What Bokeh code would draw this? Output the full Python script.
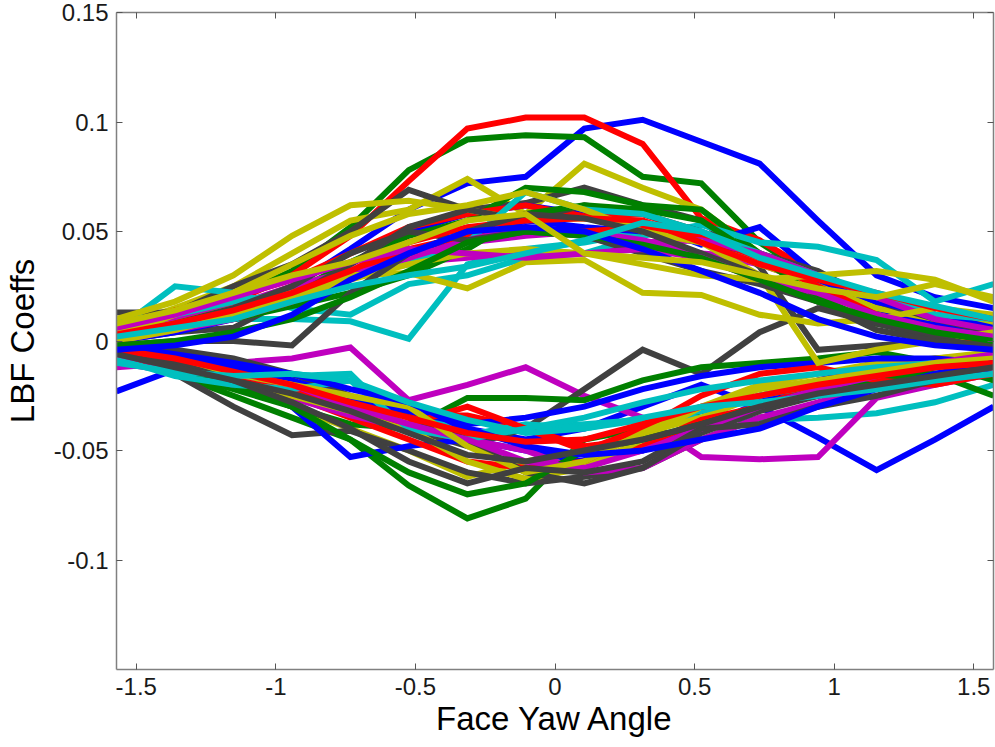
from bokeh.plotting import figure
from bokeh.models import Range1d, FixedTicker, CustomJSTickFormatter, LinearAxis
from bokeh.embed import file_html
from bokeh.resources import INLINE

# yaw angles (radians) at which the coefficients were sampled
yaw = [-1.571, -1.361, -1.152, -0.942, -0.733, -0.524, -0.314, -0.105,
       0.105, 0.314, 0.524, 0.733, 0.942, 1.152, 1.361, 1.571]

x_ticks = [-1.5, -1.0, -0.5, 0.0, 0.5, 1.0, 1.5]
y_ticks = [-0.1, -0.05, 0.0, 0.05, 0.1, 0.15]

BLUE, GREEN, RED, CYAN, MAGENTA, YELLOW, GREY = (
    "#0000ff", "#008000", "#ff0000", "#00bfbf", "#bf00bf", "#bfbf00", "#404040")

# positive-lobe coefficients
c01 = [0.000, 0.005, 0.012, 0.025, 0.042, 0.060, 0.072, 0.075, 0.097, 0.101, 0.091, 0.081, 0.055, 0.030, 0.020, 0.015]
c02 = [0.004, 0.010, 0.020, 0.032, 0.052, 0.078, 0.092, 0.094, 0.093, 0.075, 0.072, 0.045, 0.028, 0.015, 0.006, 0.002]
c03 = [0.008, 0.012, 0.018, 0.030, 0.048, 0.073, 0.097, 0.102, 0.102, 0.090, 0.056, 0.046, 0.030, 0.018, 0.008, 0.002]
c04 = [0.005, 0.012, 0.010, 0.010, 0.009, 0.001, 0.035, 0.042, 0.045, 0.050, 0.045, 0.036, 0.028, 0.020, 0.012, 0.008]
c05 = [0.002, 0.008, 0.015, 0.022, 0.030, 0.036, 0.038, 0.041, 0.040, 0.043, 0.040, 0.035, 0.026, 0.018, 0.010, 0.004]
c06 = [0.006, 0.015, 0.025, 0.040, 0.055, 0.060, 0.074, 0.058, 0.081, 0.070, 0.060, 0.040, 0.022, 0.012, 0.006, 0.003]
c07 = [0.013, 0.013, 0.025, 0.035, 0.050, 0.069, 0.060, 0.063, 0.070, 0.062, 0.055, 0.034, -0.004, -0.002, 0.000, 0.002]
c08 = [0.002, 0.006, 0.012, 0.020, 0.035, 0.050, 0.058, 0.062, 0.058, 0.054, 0.044, 0.052, 0.030, 0.015, 0.008, 0.005]
c09 = [0.000, 0.005, 0.012, 0.022, 0.036, 0.048, 0.055, 0.070, 0.068, 0.062, 0.060, 0.040, 0.025, 0.010, 0.004, 0.000]
c10 = [0.005, 0.014, 0.020, 0.028, 0.040, 0.052, 0.058, 0.062, 0.057, 0.058, 0.048, 0.040, 0.030, 0.020, 0.012, 0.005]
c11 = [0.005, 0.025, 0.022, 0.015, 0.012, 0.026, 0.030, 0.038, 0.040, 0.048, 0.053, 0.045, 0.043, 0.037, 0.018, 0.026]
c12 = [0.005, 0.010, 0.016, 0.025, 0.032, 0.040, 0.045, 0.048, 0.050, 0.046, 0.040, 0.038, 0.030, 0.020, 0.012, 0.008]
c13 = [0.010, 0.018, 0.030, 0.048, 0.062, 0.064, 0.060, 0.055, 0.056, 0.052, 0.045, 0.035, 0.026, 0.015, 0.010, 0.008]
c14 = [0.000, 0.004, 0.006, 0.020, 0.035, 0.052, 0.060, 0.055, 0.062, 0.058, 0.050, 0.040, 0.032, 0.018, 0.010, 0.004]
c15 = [0.000, 0.004, 0.010, 0.018, 0.030, 0.040, 0.045, 0.055, 0.052, 0.050, 0.045, 0.040, 0.028, 0.018, 0.012, 0.006]
c16 = [0.002, 0.006, 0.010, 0.016, 0.022, 0.030, 0.042, 0.058, 0.062, 0.060, 0.055, 0.038, 0.020, 0.008, 0.002, -0.002]
c17 = [0.000, 0.006, 0.010, 0.018, 0.030, 0.042, 0.048, 0.050, 0.050, 0.052, 0.048, 0.038, 0.025, 0.012, 0.004, -0.002]
c18 = [0.008, 0.012, 0.018, 0.022, 0.030, 0.035, 0.045, 0.068, 0.060, 0.058, 0.050, 0.040, 0.030, 0.020, 0.012, 0.010]
c19 = [0.000, 0.005, 0.010, 0.020, 0.030, 0.038, 0.046, 0.052, 0.048, 0.045, 0.046, 0.040, 0.030, 0.020, 0.010, 0.005]
c20 = [0.004, 0.008, 0.015, 0.022, 0.030, 0.031, 0.024, 0.036, 0.037, 0.022, 0.021, 0.012, 0.008, 0.010, 0.015, 0.012]
c21 = [0.002, 0.012, 0.022, 0.035, 0.048, 0.058, 0.062, 0.068, 0.060, 0.050, 0.045, 0.030, -0.010, -0.004, 0.000, 0.004]
c22 = [0.002, 0.008, 0.015, 0.025, 0.040, 0.050, 0.046, 0.050, 0.048, 0.040, 0.032, 0.026, 0.018, 0.008, 0.002, -0.004]
c23 = [0.000, 0.005, 0.012, 0.020, 0.028, 0.035, 0.040, 0.042, 0.040, 0.035, 0.030, 0.028, 0.030, 0.032, 0.028, 0.018]
c24 = [0.003, 0.008, 0.014, 0.022, 0.032, 0.045, 0.052, 0.055, 0.056, 0.055, 0.045, 0.035, 0.028, 0.022, 0.015, 0.010]
c25 = [-0.002, 0.000, 0.000, -0.002, 0.022, 0.040, 0.050, 0.058, 0.056, 0.050, 0.040, 0.030, 0.018, 0.005, 0.000, -0.002]
c26 = [0.006, 0.012, 0.020, 0.028, 0.036, 0.042, 0.040, 0.038, 0.040, 0.042, 0.038, 0.028, 0.022, 0.012, 0.006, 0.002]
c27 = [-0.002, 0.000, 0.004, 0.010, 0.020, 0.032, 0.045, 0.050, 0.048, 0.044, 0.038, 0.028, 0.018, 0.010, 0.004, 0.000]
c28 = [-0.004, -0.002, 0.002, 0.012, 0.028, 0.040, 0.050, 0.052, 0.050, 0.042, 0.032, 0.022, 0.010, 0.002, -0.002, -0.004]
c29 = [0.002, 0.006, 0.010, 0.018, 0.025, 0.030, 0.034, 0.040, 0.046, 0.054, 0.050, 0.038, 0.030, 0.022, 0.016, 0.010]
c30 = [0.008, 0.014, 0.022, 0.030, 0.036, 0.045, 0.055, 0.058, 0.040, 0.038, 0.036, 0.030, 0.024, 0.020, 0.026, 0.020]

# negative-lobe coefficients
d01 = [-0.004, -0.008, -0.015, -0.022, -0.030, -0.032, -0.040, -0.045, -0.040, -0.030, -0.020, -0.030, -0.044, -0.059, -0.045, -0.030]
d02 = [-0.005, -0.015, -0.025, -0.035, -0.045, -0.066, -0.081, -0.072, -0.045, -0.040, -0.032, -0.025, -0.020, -0.015, -0.010, -0.006]
d03 = [-0.003, -0.008, -0.015, -0.022, -0.030, -0.034, -0.034, -0.040, -0.048, -0.045, -0.040, -0.030, -0.025, -0.018, -0.012, -0.008]
d04 = [-0.002, -0.010, -0.012, -0.015, -0.018, -0.030, -0.044, -0.040, -0.038, -0.036, -0.035, -0.036, -0.035, -0.033, -0.028, -0.020]
d05 = [-0.012, -0.010, -0.010, -0.008, -0.003, -0.027, -0.020, -0.012, -0.025, -0.035, -0.053, -0.054, -0.053, -0.026, -0.020, -0.015]
d06 = [-0.006, -0.012, -0.020, -0.030, -0.040, -0.050, -0.062, -0.055, -0.050, -0.042, -0.035, -0.025, -0.018, -0.012, -0.008, -0.005]
d07 = [-0.002, -0.005, -0.010, -0.020, -0.030, -0.040, -0.048, -0.040, -0.022, -0.004, -0.015, 0.004, 0.015, 0.008, 0.002, -0.002]
d08 = [-0.005, -0.015, -0.030, -0.043, -0.041, -0.050, -0.060, -0.065, -0.062, -0.058, -0.045, -0.035, -0.030, -0.020, -0.015, -0.010]
d09 = [-0.023, -0.013, -0.015, -0.030, -0.053, -0.048, -0.045, -0.050, -0.055, -0.050, -0.040, -0.028, -0.018, -0.012, -0.010, -0.015]
d10 = [-0.008, -0.015, -0.022, -0.030, -0.038, -0.040, -0.026, -0.026, -0.027, -0.018, -0.012, -0.010, -0.008, -0.005, -0.010, -0.018]
d11 = [-0.008, -0.012, -0.018, -0.025, -0.035, -0.045, -0.055, -0.058, -0.055, -0.048, -0.036, -0.030, -0.020, -0.015, -0.010, -0.006]
d12 = [-0.004, -0.008, -0.012, -0.016, -0.015, -0.041, -0.043, -0.038, -0.040, -0.036, -0.032, -0.025, -0.020, -0.018, -0.015, -0.012]
d13 = [-0.010, -0.014, -0.020, -0.026, -0.034, -0.040, -0.045, -0.050, -0.060, -0.058, -0.045, -0.035, -0.028, -0.020, -0.015, -0.012]
d14 = [-0.004, -0.010, -0.018, -0.025, -0.032, -0.040, -0.055, -0.063, -0.058, -0.045, -0.030, -0.020, -0.015, -0.010, -0.008, -0.006]
d15 = [-0.001, -0.004, -0.008, -0.015, -0.025, -0.035, -0.045, -0.060, -0.065, -0.058, -0.042, -0.032, -0.025, -0.018, -0.012, -0.008]
d16 = [-0.003, -0.007, -0.012, -0.018, -0.026, -0.032, -0.038, -0.035, -0.030, -0.022, -0.016, -0.012, -0.010, -0.008, -0.008, -0.010]
d17 = [-0.004, -0.012, -0.020, -0.030, -0.045, -0.060, -0.070, -0.065, -0.050, -0.045, -0.038, -0.030, -0.022, -0.018, -0.015, -0.025]
d18 = [-0.006, -0.010, -0.016, -0.022, -0.030, -0.038, -0.030, -0.040, -0.050, -0.040, -0.025, -0.015, -0.012, -0.018, -0.020, -0.015]
d19 = [-0.008, -0.016, -0.020, -0.022, -0.018, -0.040, -0.045, -0.040, -0.035, -0.028, -0.022, -0.018, -0.015, -0.012, -0.010, -0.008]
d20 = [-0.006, -0.012, -0.015, -0.020, -0.030, -0.038, -0.045, -0.055, -0.058, -0.050, -0.040, -0.030, -0.022, -0.016, -0.010, -0.006]
d21 = [-0.002, -0.008, -0.015, -0.020, -0.025, -0.030, -0.048, -0.060, -0.055, -0.042, -0.030, -0.022, -0.018, -0.014, -0.010, -0.008]
d22 = [-0.003, -0.010, -0.018, -0.028, -0.040, -0.055, -0.065, -0.058, -0.060, -0.055, -0.040, -0.038, -0.030, -0.025, -0.018, -0.010]
d23 = [-0.002, -0.006, -0.010, -0.015, -0.022, -0.028, -0.040, -0.048, -0.052, -0.050, -0.045, -0.040, -0.030, -0.022, -0.015, -0.010]
d24 = [-0.004, -0.008, -0.014, -0.020, -0.028, -0.035, -0.042, -0.046, -0.045, -0.038, -0.030, -0.025, -0.020, -0.016, -0.012, -0.010]
d25 = [-0.010, -0.014, -0.016, -0.015, -0.018, -0.028, -0.036, -0.042, -0.040, -0.035, -0.030, -0.028, -0.025, -0.022, -0.018, -0.015]
d26 = [-0.006, -0.012, -0.018, -0.024, -0.032, -0.042, -0.052, -0.055, -0.050, -0.045, -0.038, -0.030, -0.024, -0.020, -0.016, -0.012]

curves = [
    (d01, BLUE), (d02, GREEN), (d03, RED), (d04, CYAN), (d05, MAGENTA), (d06, YELLOW), (d07, GREY),
    (c01, BLUE), (c02, GREEN), (c03, RED), (c04, CYAN), (c05, MAGENTA), (c06, YELLOW), (c07, GREY),
    (d08, GREY), (d09, BLUE), (d10, GREEN), (d11, RED), (d12, CYAN), (d13, MAGENTA), (d14, YELLOW),
    (c08, BLUE), (c09, GREEN), (c10, RED), (c11, CYAN), (c12, MAGENTA), (c13, YELLOW), (c14, GREY),
    (d15, GREY), (d16, BLUE), (d17, GREEN), (d18, RED), (d19, CYAN), (d20, MAGENTA), (d21, YELLOW),
    (c15, BLUE), (c16, GREEN), (c17, RED), (c18, CYAN), (c19, MAGENTA), (c20, YELLOW), (c21, YELLOW),
    (d22, GREY), (d23, BLUE), (d24, RED), (d25, CYAN), (d26, GREY),
    (c22, GREY), (c23, YELLOW), (c24, RED), (c25, GREY), (c26, MAGENTA), (c27, GREEN),
    (c28, BLUE), (c29, CYAN), (c30, YELLOW),
]

FONT = "Liberation Sans"
AXIS_GREY = "#808080"
TEXT = "#1a1a1a"

p = figure(width=995, height=747, output_backend="svg", toolbar_location=None,
           x_range=Range1d(-1.5708, 1.5708), y_range=Range1d(-0.15, 0.15),
           min_border_left=116, min_border_right=2, min_border_top=12, min_border_bottom=78)

for values, color in curves:
    p.line(yaw, values, line_color=color, line_width=6, line_join="miter")

fmt = CustomJSTickFormatter(code="return String(Math.round(tick * 1000) / 1000);")
blank = CustomJSTickFormatter(code="return '';")

p.xaxis.ticker = FixedTicker(ticks=x_ticks)
p.yaxis.ticker = FixedTicker(ticks=y_ticks)
p.xaxis.formatter = fmt
p.yaxis.formatter = fmt
p.xaxis.axis_label = "Face Yaw Angle"
p.yaxis.axis_label = "LBF Coeffs"

for ax in (p.xaxis[0], p.yaxis[0]):
    ax.axis_line_color = AXIS_GREY
    ax.axis_line_width = 1.5
    ax.major_tick_line_color = "#555555"
    ax.major_tick_in = 6
    ax.major_tick_out = 0
    ax.minor_tick_line_color = None
    ax.major_label_text_font = FONT
    ax.major_label_text_font_size = "24px"
    ax.major_label_text_color = TEXT
    ax.axis_label_text_font = FONT
    ax.axis_label_text_font_size = "33px"
    ax.axis_label_text_font_style = "normal"
    ax.axis_label_text_color = "#000000"

p.xaxis.major_label_standoff = 8
p.xaxis.axis_label_standoff = 2
p.yaxis.major_label_standoff = 8
p.yaxis.axis_label_standoff = 10

# tick marks on the opposite sides of the box
for side, ticks in (("above", x_ticks), ("right", y_ticks)):
    ax = LinearAxis(ticker=FixedTicker(ticks=ticks), formatter=blank)
    ax.major_label_text_font_size = "1px"
    ax.major_label_standoff = 0
    ax.major_tick_in = 6
    ax.major_tick_out = 0
    ax.minor_tick_line_color = None
    ax.axis_line_color = AXIS_GREY
    ax.axis_line_width = 1.5
    ax.major_tick_line_color = "#555555"
    p.add_layout(ax, side)

p.grid.visible = False
p.outline_line_color = None
p.background_fill_color = "white"
p.border_fill_color = "white"

open("out.html", "w").write(file_html(p, INLINE))
